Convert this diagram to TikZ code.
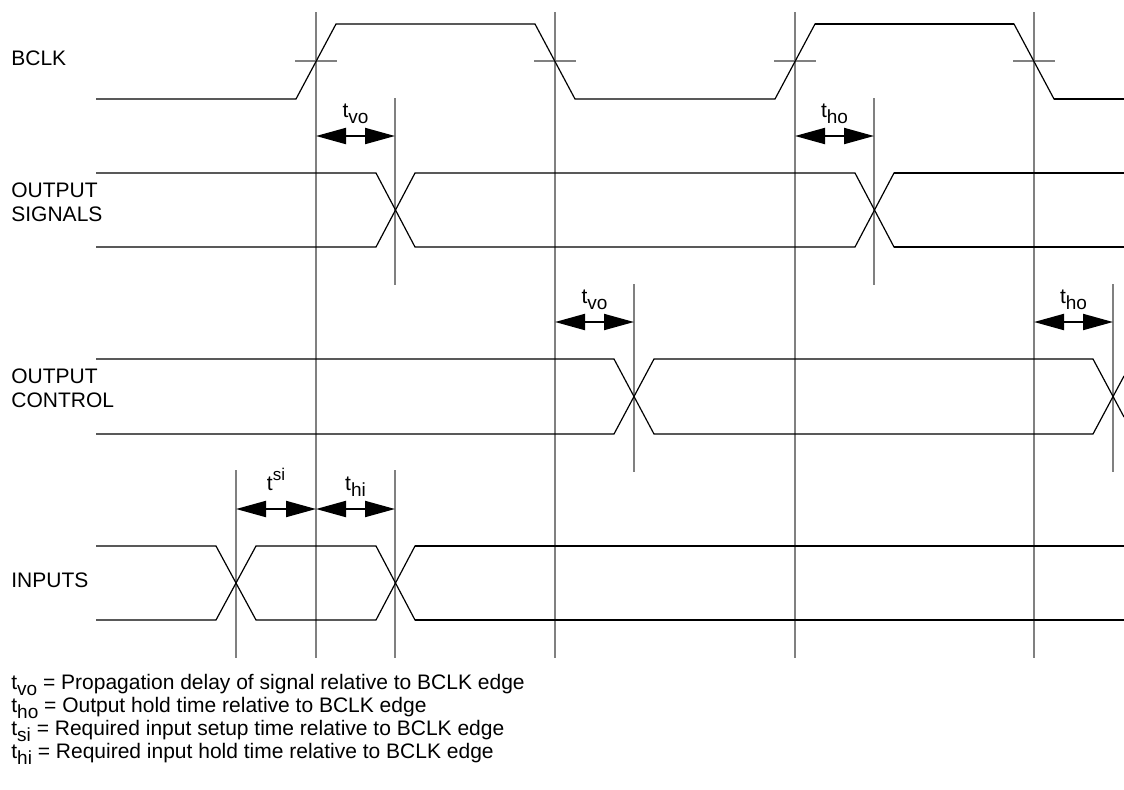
\documentclass[tikz,border=0pt]{standalone}
\usepackage{fontspec}
\setmainfont{Liberation Sans}
\usepackage{xcolor}
\colorlet{GuideLine}{black!50}
\colorlet{WaveLine}{black}
\usetikzlibrary{arrows.meta}
\newcommand{\tsub}[1]{\raisebox{-3pt}{\fontsize{9.5pt}{10pt}\selectfont #1}}
\newcommand{\tsup}[1]{\raisebox{5pt}{\fontsize{8.5pt}{9pt}\selectfont #1}}

\begin{document}
\begin{tikzpicture}[x=0.5pt, y=-0.5pt,
    font=\fontsize{10.5pt}{12pt}\selectfont,
    Wave/.style={draw=WaveLine, line width=0.6pt},
    WaveHeavy/.style={draw=WaveLine, line width=0.85pt},
    Guide/.style={draw=GuideLine, line width=0.8pt},
    TimeArrow/.style={{Triangle[length=15pt,width=8pt]}-{Triangle[length=15pt,width=8pt]}, line width=1pt},
    Lbl/.style={inner sep=0pt, align=left}]

\useasboundingbox (0, 0) rectangle (1124, 789);

\coordinate (R1) at (316, 61);
\coordinate (F1) at (555, 61);
\coordinate (R2) at (795, 61);
\coordinate (F2) at (1034, 61);

\draw[Guide] (316, 12) -- (316, 658);
\draw[Guide] (555, 12) -- (555, 658);
\draw[Guide] (795, 12) -- (795, 658);
\draw[Guide] (1034, 12) -- (1034, 658);
\draw[Guide] (395, 98) -- (395, 285);
\draw[Guide] (874, 98) -- (874, 285);
\draw[Guide] (634, 284) -- (634, 472);
\draw[Guide] (1113, 284) -- (1113, 472);
\draw[Guide] (236, 470) -- (236, 658);
\draw[Guide] (395, 470) -- (395, 658);

\draw[Guide] ([xshift=-10.5pt]R1) -- ([xshift=10.5pt]R1);
\draw[Guide] ([xshift=-10.5pt]F1) -- ([xshift=10.5pt]F1);
\draw[Guide] ([xshift=-10.5pt]R2) -- ([xshift=10.5pt]R2);
\draw[Guide] ([xshift=-10.5pt]F2) -- ([xshift=10.5pt]F2);

\draw[Wave] (96, 99) -- (296, 99) -- (336, 24) -- (535, 24) -- (575, 99)
    -- (775, 99) -- (815, 24) -- (1014, 24) -- (1054, 99) -- (1124, 99);
\draw[WaveHeavy] (815, 24) -- (1014, 24);
\draw[WaveHeavy] (1054, 99) -- (1124, 99);

\draw[Wave] (96, 173) -- (376, 173) -- (415, 247) -- (855, 247) -- (894, 173) -- (1124, 173);
\draw[Wave] (96, 247) -- (376, 247) -- (415, 173) -- (855, 173) -- (894, 247) -- (1124, 247);
\draw[WaveHeavy] (894, 173) -- (1124, 173);
\draw[WaveHeavy] (894, 247) -- (1124, 247);

\draw[Wave] (96, 359) -- (614, 359) -- (654, 434) -- (1093, 434) -- (1124, 376);
\draw[Wave] (96, 434) -- (614, 434) -- (654, 359) -- (1093, 359) -- (1124, 417);

\draw[Wave] (96, 546) -- (216, 546) -- (256, 620) -- (376, 620) -- (415, 546) -- (1124, 546);
\draw[Wave] (96, 620) -- (216, 620) -- (256, 546) -- (376, 546) -- (415, 620) -- (1124, 620);
\draw[WaveHeavy] (415, 546) -- (1124, 546);
\draw[WaveHeavy] (415, 620) -- (1124, 620);

\coordinate (SigVoA) at (316, 136);
\coordinate (SigVoB) at (395, 136);
\coordinate (SigHoA) at (795, 136);
\coordinate (SigHoB) at (874, 136);
\coordinate (CtlVoA) at (555, 322);
\coordinate (CtlVoB) at (634, 322);
\coordinate (CtlHoA) at (1034, 322);
\coordinate (CtlHoB) at (1113, 322);
\coordinate (InSiA) at (236, 509);
\coordinate (InSiB) at (316, 509);
\coordinate (InHiA) at (316, 509);
\coordinate (InHiB) at (395, 509);

\draw[TimeArrow] (SigVoA) -- node[Lbl, above=5.5pt] (SigVo) {t\tsub{vo}} (SigVoB);
\draw[TimeArrow] (SigHoA) -- node[Lbl, above=5.5pt] (SigHo) {t\tsub{ho}} (SigHoB);
\draw[TimeArrow] (CtlVoA) -- node[Lbl, above=5.5pt] (CtlVo) {t\tsub{vo}} (CtlVoB);
\draw[TimeArrow] (CtlHoA) -- node[Lbl, above=5.5pt] (CtlHo) {t\tsub{ho}} (CtlHoB);
\draw[TimeArrow] (InSiA) -- node[Lbl, above=8.5pt] (InSi) {t\tsup{si}} (InSiB);
\draw[TimeArrow] (InHiA) -- node[Lbl, above=6pt] (InHi) {t\tsub{hi}} (InHiB);

\node[Lbl, anchor=base west] (bclk) at (11, 65) {BCLK};
\node[Lbl, anchor=west] (outsig) at (11, 202.5) {OUTPUT\\SIGNALS};
\node[Lbl, anchor=west] (outctl) at (11, 388) {OUTPUT\\CONTROL};
\node[Lbl, anchor=base west] (inputs) at (11, 587) {INPUTS};

\node[Lbl, anchor=base west] (KeyVo) at (11, 689) {t\tsub{vo} = Propagation delay of signal relative to BCLK edge};
\node[Lbl, anchor=base west] (KeyHo) at (11, 712) {t\tsub{ho} = Output hold time relative to BCLK edge};
\node[Lbl, anchor=base west] (KeySi) at (11, 735) {t\tsub{si} = Required input setup time relative to BCLK edge};
\node[Lbl, anchor=base west] (KeyHi) at (11, 758) {t\tsub{hi} = Required input hold time relative to BCLK edge};

\end{tikzpicture}
\end{document}
